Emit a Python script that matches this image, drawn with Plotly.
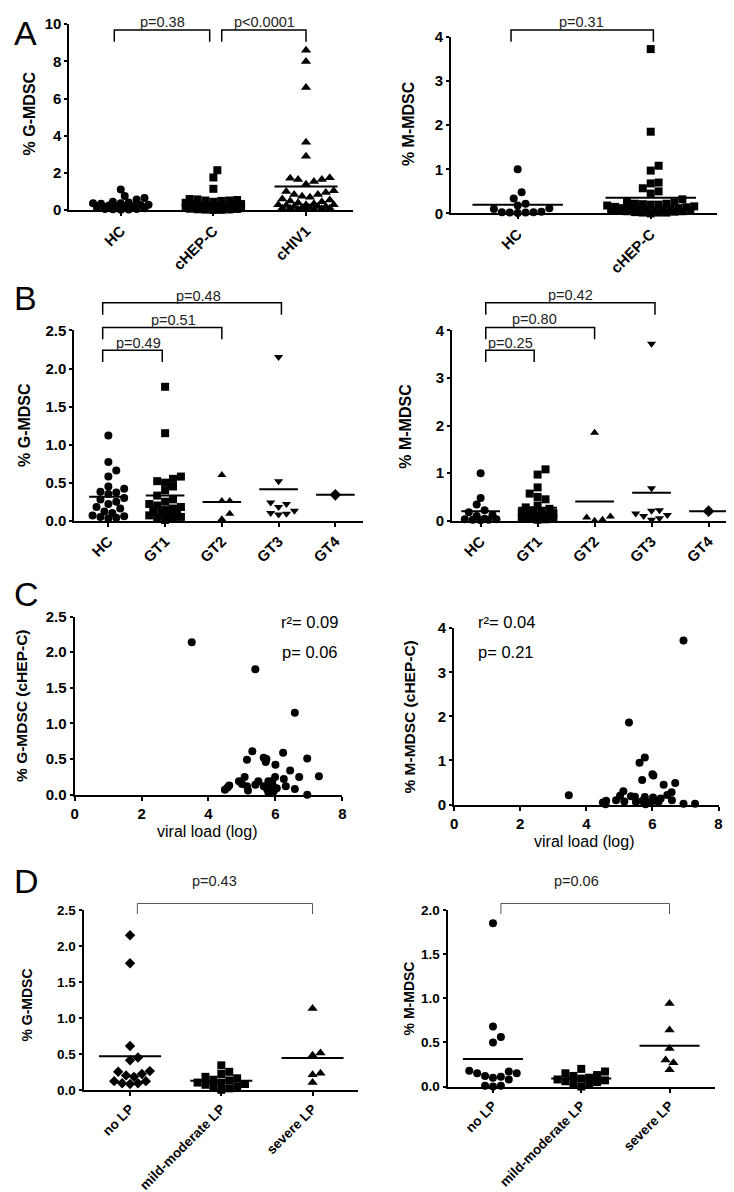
import numpy as np
import plotly.graph_objects as go

W, H = 734, 1192
FONT = "Liberation Sans, Arial, sans-serif"

# ---------------- data ----------------
A_cats = ["HC", "cHEP-C", "cHIV1"]
A2_cats = ["HC", "cHEP-C"]
B_cats = ["HC", "GT1", "GT2", "GT3", "GT4"]
D_cats = ["no LP", "mild-moderate LP", "severe LP"]

HC_G = [1.12, 0.77, 0.66, 0.58, 0.45, 0.42, 0.38, 0.35, 0.30, 0.28, 0.25,
        0.22, 0.18, 0.16, 0.12, 0.10, 0.07, 0.06, 0.05, 0.04, 0.03, 0.37]
GT1_G = [1.76, 1.15, 0.58, 0.55, 0.52, 0.50, 0.45, 0.40, 0.33, 0.28, 0.25,
         0.22, 0.20, 0.18, 0.16, 0.14, 0.12, 0.11, 0.10, 0.08, 0.07, 0.05,
         0.04, 0.03, 0.01]
GT2_G = [0.60, 0.26, 0.26, 0.09, 0.02]
GT3_G = [2.15, 0.52, 0.24, 0.22, 0.18, 0.13, 0.10, 0.09, 0.08]
GT4_G = [0.34]
HIV_G = [8.6, 8.0, 6.6, 3.65, 2.9, 1.72, 1.65, 1.75, 1.55, 1.65, 1.4, 1.05,
         1.0, 0.95, 0.85, 0.85, 0.75, 0.7, 0.6, 0.55, 0.5, 0.45, 0.4, 0.35,
         0.3, 0.3, 0.25, 0.2, 0.2, 0.15, 0.1, 0.1, 0.05, 0.05, 0.02, 0.3,
         0.2, 0.15, 0.1, 0.08]
HEPC_G = GT1_G + GT2_G + GT3_G + GT4_G

HC_M = [1.00, 0.48, 0.34, 0.22, 0.18, 0.12, 0.10, 0.03, 0.02, 0.03, 0.01,
        0.04, 0.02]
GT1_M = [1.08, 0.97, 0.70, 0.57, 0.50, 0.45, 0.32, 0.28, 0.25, 0.22, 0.20,
         0.18, 0.16, 0.14, 0.12, 0.11, 0.10, 0.09, 0.08, 0.07, 0.06, 0.05,
         0.04, 0.03, 0.02]
GT2_M = [1.85, 0.09, 0.07, 0.02, 0.00]
GT3_M = [3.72, 0.68, 0.22, 0.21, 0.15, 0.12, 0.10, 0.05, 0.02]
GT4_M = [0.20]
HEPC_M = GT1_M + GT2_M + GT3_M + GT4_M

C_G_vl = [3.50, 5.40, 6.58, 5.31, 6.23, 5.65, 5.73, 5.15, 6.95, 5.71, 6.00,
          6.44, 7.30, 6.71, 5.08, 4.91, 5.49, 5.79, 5.99, 6.25, 5.40, 5.15,
          4.62, 4.57, 4.49, 5.18, 5.65, 5.92, 6.31, 6.58, 5.79, 5.95, 6.04,
          6.95, 5.00, 5.75, 5.90]
C_G_val = [2.14, 1.76, 1.15, 0.61, 0.59, 0.52, 0.50, 0.49, 0.51, 0.46, 0.42,
           0.34, 0.26, 0.25, 0.25, 0.19, 0.19, 0.19, 0.25, 0.22, 0.14, 0.12,
           0.13, 0.10, 0.07, 0.06, 0.12, 0.13, 0.12, 0.08, 0.03, 0.05, 0.09,
           0.00, 0.15, 0.08, 0.19]
C_M_vl = [6.94, 5.29, 5.77, 5.61, 6.00, 5.69, 6.69, 6.34, 3.47, 5.12, 5.02,
          5.35, 5.47, 5.77, 6.02, 6.58, 6.45, 6.25, 4.90, 4.60, 4.50, 4.58,
          5.15, 5.50, 5.69, 5.84, 5.94, 6.09, 6.59, 6.94, 7.29, 5.79, 6.19,
          6.03]
C_M_val = [3.72, 1.86, 1.07, 0.95, 0.69, 0.56, 0.49, 0.45, 0.21, 0.30, 0.20,
           0.19, 0.18, 0.17, 0.16, 0.28, 0.22, 0.14, 0.10, 0.09, 0.05, 0.01,
           0.07, 0.06, 0.08, 0.04, 0.06, 0.09, 0.10, 0.02, 0.02, 0.01, 0.07,
           0.66]

noLP_G = [2.15, 1.76, 0.61, 0.45, 0.41, 0.26, 0.25, 0.22, 0.20, 0.18, 0.12,
          0.12, 0.09, 0.09, 0.08]
mild_G = [0.34, 0.25, 0.22, 0.18, 0.16, 0.14, 0.13, 0.10, 0.10, 0.08, 0.07,
          0.05, 0.05, 0.02, 0.0]
severe_G = [1.13, 0.51, 0.48, 0.23, 0.21, 0.10]
noLP_M = [1.85, 0.68, 0.56, 0.50, 0.18, 0.15, 0.15, 0.17, 0.10, 0.12, 0.11,
          0.08, 0.01, 0.0, 0.01]
mild_M = [0.20, 0.17, 0.15, 0.13, 0.12, 0.10, 0.09, 0.08, 0.07, 0.06, 0.05,
          0.04, 0.02, 0.0]
severe_M = [0.94, 0.64, 0.43, 0.30, 0.27, 0.19]

C_G_stats = ["r²= 0.09", "p= 0.06"]
C_M_stats = ["r²= 0.04", "p= 0.21"]

# ---------------- helpers ----------------
fig = go.Figure()
annotations = []
shapes = []


def sfx(i):
    return "" if i == 1 else str(i)


def fx(px):
    return px / W


def fy(py):
    return 1 - py / H


def setup_axes(i, box, xr, yr, ytick, yfmt, xtickvals=None, xticktext=None,
               xangle=0, tfs=15):
    x0, x1, top, bot = box
    tf = dict(family=FONT, size=tfs, color="black", weight="bold")
    xa = dict(domain=[fx(x0), fx(x1)], range=xr, anchor="y" + sfx(i),
              showline=True, linewidth=2, linecolor="black", ticks="outside",
              ticklen=4, tickwidth=2, tickcolor="black", showgrid=False,
              zeroline=False, tickfont=tf, tickangle=xangle)
    if xtickvals is not None:
        xa.update(tickmode="array", tickvals=xtickvals, ticktext=xticktext)
    ya = dict(domain=[fy(bot), fy(top)], range=yr, anchor="x" + sfx(i),
              showline=True, linewidth=2, linecolor="black", ticks="outside",
              ticklen=3, tickwidth=2, tickcolor="black", showgrid=False,
              zeroline=False, tickfont=tf, tickmode="array", tickvals=ytick,
              ticktext=[format(v, yfmt) for v in ytick])
    fig.update_layout(**{"xaxis" + sfx(i): xa, "yaxis" + sfx(i): ya})


def swarm(vals, pxx, pxy, d, maxoff):
    vals = np.asarray(vals, float)
    step = d / 2.0
    cands = [0.0]
    k = 1
    while k * step <= maxoff + 1e-9:
        cands += [k * step, -k * step]
        k += 1
    px_, py_ = [], []
    offs = np.zeros(len(vals))
    for idx in np.argsort(vals, kind="stable"):
        y = vals[idx] * pxy
        best, bestd = 0.0, -1.0
        for c in cands:
            if px_:
                dist = np.min(np.hypot(np.array(px_) - c, np.array(py_) - y))
            else:
                dist = np.inf
            if dist >= d * 0.95:
                best = c
                break
            if dist > bestd:
                best, bestd = c, dist
        offs[idx] = best / pxx
        px_.append(best)
        py_.append(y)
    return offs


def dot_panel(i, box, xr, yr, groups, mean_w=2):
    x0, x1, top, bot = box
    pxx = (x1 - x0) / (xr[1] - xr[0])
    pxy = (bot - top) / (yr[1] - yr[0])
    for k, (vals, sym, sz, d) in enumerate(groups):
        offs = swarm(vals, pxx, pxy, d, 0.33 * pxx)
        fig.add_trace(go.Scatter(
            x=k + offs, y=vals, mode="markers",
            marker=dict(symbol=sym, size=sz, color="black",
                        line=dict(width=0)),
            xaxis="x" + sfx(i), yaxis="y" + sfx(i), cliponaxis=False,
            showlegend=False, hoverinfo="skip"))
        m = float(np.mean(vals))
        fig.add_trace(go.Scatter(
            x=[k - 0.34, k + 0.34], y=[m, m], mode="lines",
            line=dict(color="black", width=mean_w),
            xaxis="x" + sfx(i), yaxis="y" + sfx(i), showlegend=False,
            hoverinfo="skip"))


def bracket(i, xa, xb, ytop, ybot, text, tx, ty, color="black", width=1.5,
            fs=14.5):
    path = (f"M {xa},{fy(ybot)} L {xa},{fy(ytop)} L {xb},{fy(ytop)} "
            f"L {xb},{fy(ybot)}")
    shapes.append(dict(type="path", path=path, xref="x" + sfx(i),
                       yref="paper", line=dict(color=color, width=width)))
    annotations.append(dict(text=text, x=tx, y=fy(ty), xref="x" + sfx(i),
                            yref="paper", xanchor="center", yanchor="middle",
                            showarrow=False,
                            font=dict(family=FONT, size=fs, color="#222")))


def label(text, px, py, size, angle=0, bold=False, xanchor="center",
          color="black"):
    f = dict(family=FONT, size=size, color=color)
    if bold:
        f["weight"] = "bold"
    annotations.append(dict(text=text, x=fx(px), y=fy(py), xref="paper",
                            yref="paper", xanchor=xanchor, yanchor="middle",
                            showarrow=False, textangle=angle, font=f))


# ---------------- panel A ----------------
boxA1 = (58, 345, 7.3, 196)
xrA1 = [-0.555, 2.51]
setup_axes(1, boxA1, xrA1, [0, 10], [0, 2, 4, 6, 8, 10], "g",
           [0, 1, 2], A_cats, -45)
dot_panel(1, boxA1, xrA1, [0, 10], [
    (HC_G, "circle", 8, 8), (HEPC_G, "square", 8, 8),
    (HIV_G, "triangle-up", 9, 8)])
bracket(1, -0.07, 0.96, 13.3, 25, "p=0.38", 0.45, 5)
bracket(1, 1.09, 2.0, 13.3, 25, "p<0.0001", 1.55, 5)

boxA2 = (444, 713, 20, 199.3)
xrA2 = [-0.5, 1.5]
setup_axes(2, boxA2, xrA2, [0, 4], [0, 1, 2, 3, 4], "g",
           [0, 1], A2_cats, -45)
dot_panel(2, boxA2, xrA2, [0, 4], [
    (HC_M, "circle", 8, 8), (HEPC_M, "square", 8, 8)])
bracket(2, -0.05, 1.02, 13.3, 25, "p=0.31", 0.48, 5)

# ---------------- panel B ----------------
boxB1 = (63, 355, 318, 511)
xrB1 = [-0.6, 4.49]
setup_axes(3, boxB1, xrB1, [0, 2.5], [0, 0.5, 1.0, 1.5, 2.0, 2.5], ".1f",
           [0, 1, 2, 3, 4], B_cats, -45)
dot_panel(3, boxB1, xrB1, [0, 2.5], [
    (HC_G, "circle", 8, 8), (GT1_G, "square", 8, 8),
    (GT2_G, "triangle-up", 8, 8), (GT3_G, "triangle-down", 8, 8),
    (GT4_G, "diamond", 9, 8)])
bracket(3, -0.1, 0.95, 338, 350, "p=0.49", 0.53, 331)
bracket(3, -0.1, 2.0, 315, 327, "p=0.51", 1.14, 307.5)
bracket(3, -0.1, 3.05, 290, 302, "p=0.48", 1.58, 283)

boxB2 = (445, 733, 318, 511)
xrB2 = [-0.5, 4.5]
setup_axes(4, boxB2, xrB2, [0, 4], [0, 1, 2, 3, 4], "g",
           [0, 1, 2, 3, 4], B_cats, -45)
dot_panel(4, boxB2, xrB2, [0, 4], [
    (HC_M, "circle", 8, 8), (GT1_M, "square", 8, 8),
    (GT2_M, "triangle-up", 8, 8), (GT3_M, "triangle-down", 8, 8),
    (GT4_M, "diamond", 9, 8)])
bracket(4, 0.09, 0.94, 338, 350, "p=0.25", 0.52, 330.5)
bracket(4, 0.09, 2.0, 315, 327, "p=0.80", 0.94, 306.7)
bracket(4, 0.09, 3.06, 290, 302, "p=0.42", 1.58, 282.3)

# ---------------- panel C ----------------
boxC1 = (63.3, 334, 608.3, 789)
setup_axes(5, boxC1, [0, 8], [0, 2.5], [0, 0.5, 1.0, 1.5, 2.0, 2.5], ".1f",
           [0, 2, 4, 6, 8], ["0", "2", "4", "6", "8"], 0)
fig.add_trace(go.Scatter(x=C_G_vl, y=C_G_val, mode="markers",
                         marker=dict(symbol="circle", size=8, color="black"),
                         xaxis="x5", yaxis="y5", cliponaxis=False,
                         showlegend=False, hoverinfo="skip"))
label(C_G_stats[0], 332, 614, 16.5, xanchor="right")
label(C_G_stats[1], 332, 644, 16.5, xanchor="right")

boxC2 = (447, 714.3, 620, 799)
setup_axes(6, boxC2, [0, 8], [0, 4], [0, 1, 2, 3, 4], "g",
           [0, 2, 4, 6, 8], ["0", "2", "4", "6", "8"], 0)
fig.add_trace(go.Scatter(x=C_M_vl, y=C_M_val, mode="markers",
                         marker=dict(symbol="circle", size=8, color="black"),
                         xaxis="x6", yaxis="y6", cliponaxis=False,
                         showlegend=False, hoverinfo="skip"))
label(C_M_stats[0], 469, 614, 16.5, xanchor="left")
label(C_M_stats[1], 469, 644, 16.5, xanchor="left")

# ---------------- panel D ----------------
boxD1 = (72.3, 350, 906, 1088.3)
xrD1 = [-0.51, 2.5]
setup_axes(7, boxD1, xrD1, [0, 2.5], [0, 0.5, 1.0, 1.5, 2.0, 2.5], ".1f",
           [0, 1, 2], D_cats, -45, tfs=13.5)
dot_panel(7, boxD1, xrD1, [0, 2.5], [
    (noLP_G, "diamond", 8, 8), (mild_G, "square", 8, 8),
    (severe_G, "triangle-up", 9, 8)])
bracket(7, 0.08, 2.0, 899.3, 910, "p=0.43", 0.92, 876.7, color="#555",
        width=1)

boxD2 = (440.3, 710.3, 906, 1085)
xrD2 = [-0.515, 2.51]
setup_axes(8, boxD2, xrD2, [0, 2.0], [0, 0.5, 1.0, 1.5, 2.0], ".1f",
           [0, 1, 2], D_cats, -45, tfs=13.5)
dot_panel(8, boxD2, xrD2, [0, 2.0], [
    (noLP_M, "circle", 8, 8), (mild_M, "square", 8, 8),
    (severe_M, "triangle-up", 9, 8)])
bracket(8, 0.09, 2.0, 899.3, 910, "p=0.06", 0.95, 876.7, color="#555",
        width=1)

# ---------------- titles and letters ----------------
label("% G-MDSC", 18, 98, 16, angle=-90, bold=True)
label("% M-MDSC", 401, 108, 16, angle=-90, bold=True)
label("% G-MDSC", 12, 414, 16, angle=-90, bold=True)
label("% M-MDSC", 397, 415, 16, angle=-90, bold=True)
label("% G-MDSC (cHEP-C)", 9, 699, 15.5, angle=-90, bold=True)
label("% M-MDSC (cHEP-C)", 402, 710, 15.5, angle=-90, bold=True)
label("% G-MDSC", 15, 1002, 14, angle=-90, bold=True)
label("% M-MDSC", 401, 996, 14, angle=-90, bold=True)
label("viral load (log)", 197.5, 826, 16)
label("viral load (log)", 578.7, 836, 16)

for letter, py in [("A", 16.5), ("B", 285), ("C", 585), ("D", 877)]:
    label(letter, 0, py, 34, xanchor="left")

fig.update_layout(width=W, height=H, margin=dict(l=0, r=0, t=0, b=0),
                  paper_bgcolor="white", plot_bgcolor="white",
                  showlegend=False, annotations=annotations, shapes=shapes,
                  font=dict(family=FONT, color="black"))
fig.write_html("out.html")
